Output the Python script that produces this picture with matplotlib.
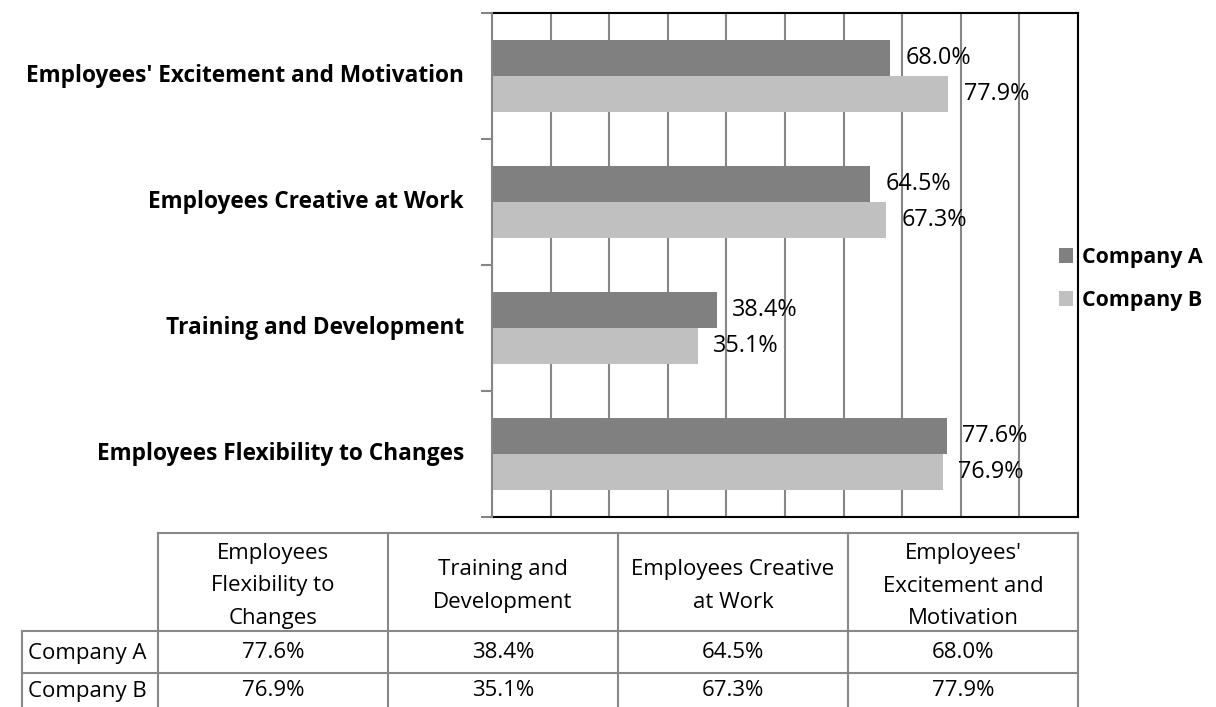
import matplotlib
matplotlib.use("Agg")
import matplotlib.pyplot as plt
from matplotlib.patches import Patch

# ---- data ----
categories = ["Employees Flexibility to Changes", "Training and Development",
              "Employees Creative at Work", "Employees' Excitement and Motivation"]
table_headers = ["Employees\nFlexibility to\nChanges", "Training and\nDevelopment",
                 "Employees Creative\nat Work", "Employees'\nExcitement and\nMotivation"]
series_names = ["Company A", "Company B"]
company_a = [77.6, 38.4, 64.5, 68.0]
company_b = [76.9, 35.1, 67.3, 77.9]
x_ticks = [0, 10, 20, 30, 40, 50, 60, 70, 80, 90, 100]

colors = ["#808080", "#C0C0C0"]
FONT = "Open Sans"

W, H = 1216, 707
fig = plt.figure(figsize=(W / 100, H / 100), dpi=100)

def fx(px):
    return px / W

def fy(py):
    return 1 - py / H

# ---- bar chart ----
left, right, top, bottom = 492, 1078, 13, 517
ax = fig.add_axes([fx(left), fy(bottom), fx(right - left), (bottom - top) / H])
n = len(categories)
bh = 0.2857
ys = list(range(n))
ax.barh([y + bh / 2 for y in ys], company_a, height=bh, color=colors[0], zorder=3)
ax.barh([y - bh / 2 for y in ys], company_b, height=bh, color=colors[1], zorder=3)

ax.set_xlim(x_ticks[0], x_ticks[-1])
ax.set_ylim(-0.5, n - 0.5)
ax.set_xticks(x_ticks)
ax.xaxis.grid(True, color="#868686", linewidth=1.5, zorder=0)
ax.tick_params(axis="x", length=0, labelbottom=False)
ax.set_yticks([y - 0.5 for y in ys] + [n - 0.5])
ax.set_yticklabels([])
ax.tick_params(axis="y", length=8, width=1.5, color="#868686", direction="out")
for y, c in zip(ys, categories):
    ax.text(-0.048, y, c, transform=ax.get_yaxis_transform(), ha="right", va="center",
            fontsize=16.3, fontweight="bold", family=FONT)

for s in ["top", "right", "bottom"]:
    ax.spines[s].set_color("black")
    ax.spines[s].set_linewidth(1.5)
ax.spines["left"].set_color("#868686")
ax.spines["left"].set_linewidth(1.5)
ax.spines["left"].set_zorder(4)

for y, a, b in zip(ys, company_a, company_b):
    ax.annotate(f"{a:.1f}%", (a, y + bh / 2), xytext=(11, 0), textcoords="offset points",
                ha="left", va="center", fontsize=16.8, family=FONT)
    ax.annotate(f"{b:.1f}%", (b, y - bh / 2), xytext=(11, 0), textcoords="offset points",
                ha="left", va="center", fontsize=16.8, family=FONT)

# ---- legend ----
handles = [Patch(facecolor=c, edgecolor="none") for c in colors]
leg = fig.legend(handles, series_names, loc="center left",
                 bbox_to_anchor=(fx(1050), fy(279)), frameon=False,
                 prop={"family": FONT, "weight": "bold", "size": 15.4},
                 handlelength=0.68, handleheight=0.68, handletextpad=0.42,
                 labelspacing=1.05, borderaxespad=0)

# ---- data table ----
tax = fig.add_axes([0, 0, 1, 1], zorder=-1)
tax.set_xlim(0, W)
tax.set_ylim(H, 0)
tax.axis("off")
col_x = [22, 158, 388, 618, 848, 1078]
row_y = [533, 631, 673, 715]
lc = "#888888"
lw = 1.5
tax.plot([col_x[1], col_x[-1]], [row_y[0], row_y[0]], color=lc, lw=lw)
for x in col_x[1:]:
    tax.plot([x, x], [row_y[0], row_y[-1]], color=lc, lw=lw)
tax.plot([col_x[0], col_x[0]], [row_y[1], row_y[-1]], color=lc, lw=lw)
for yv in row_y[1:]:
    tax.plot([col_x[0], col_x[-1]], [yv, yv], color=lc, lw=lw)

for i, h in enumerate(table_headers):
    cx = (col_x[i + 1] + col_x[i + 2]) / 2
    tax.text(cx, (row_y[0] + row_y[1]) / 2 + 4, h, ha="center", va="center",
             fontsize=16, family=FONT, linespacing=1.72)
for r, (name, vals) in enumerate(zip(series_names, [company_a, company_b])):
    cy = (row_y[r + 1] + row_y[r + 2]) / 2 + 1
    if r == 1:
        cy = 691
    tax.text(col_x[0] + 6, cy, name, ha="left", va="center", fontsize=16, family=FONT)
    for i, v in enumerate(vals):
        cx = (col_x[i + 1] + col_x[i + 2]) / 2
        tax.text(cx, cy, f"{v:.1f}%", ha="center", va="center", fontsize=16, family=FONT)

fig.savefig("out.png", dpi=100)
